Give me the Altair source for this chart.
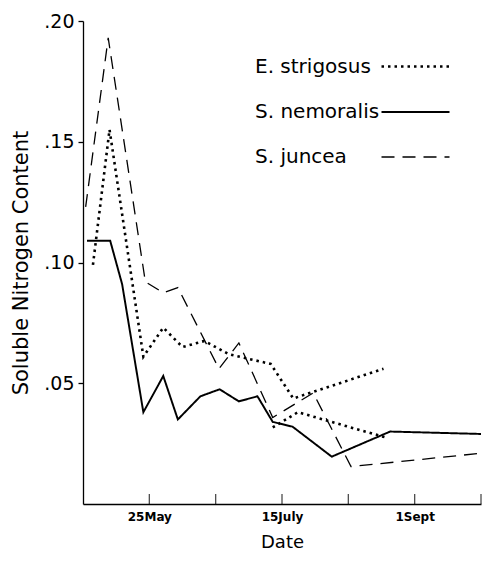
import altair as alt
import pandas as pd

species = ["E. strigosus", "S. nemoralis", "S. juncea"]

# x measured in tick intervals along the date axis (1 = 25May, 3 = 15July, 5 = 1Sept)
es_x = [0.15, 0.40, 0.91, 1.21, 1.50, 1.83, 2.20, 2.83, 3.17, 4.53]
es_y = [0.099, 0.155, 0.061, 0.073, 0.065, 0.0675, 0.062, 0.058, 0.0437, 0.056]
es2_x = [2.86, 3.24, 4.57]
es2_y = [0.0317, 0.038, 0.0275]

sn_x = [0.06, 0.41, 0.59, 0.91, 1.21, 1.43, 1.77, 2.06, 2.35, 2.63, 2.86, 3.16, 3.75, 4.63, 6.0]
sn_y = [0.109, 0.109, 0.091, 0.038, 0.053, 0.035, 0.0446, 0.0475, 0.0425, 0.0446, 0.034, 0.032, 0.0196, 0.030, 0.029]

sj_x = [0.04, 0.38, 0.94, 1.21, 1.43, 2.05, 2.35, 2.86, 3.47, 4.04, 6.0]
sj_y = [0.123, 0.193, 0.092, 0.0875, 0.0896, 0.056, 0.0667, 0.0358, 0.046, 0.0155, 0.021]

x_ticks = [1, 2, 3, 4, 5, 6]
x_label_pos = [1, 3, 5]
x_labels = ["25May", "15July", "1Sept"]
y_ticks = [0.05, 0.10, 0.15, 0.20]

rows = []
for x, y in zip(es_x, es_y):
    rows.append({"x": x, "y": y, "species": species[0], "seg": "a"})
for x, y in zip(es2_x, es2_y):
    rows.append({"x": x, "y": y, "species": species[0], "seg": "b"})
for x, y in zip(sn_x, sn_y):
    rows.append({"x": x, "y": y, "species": species[1], "seg": "a"})
for x, y in zip(sj_x, sj_y):
    rows.append({"x": x, "y": y, "species": species[2], "seg": "a"})
df = pd.DataFrame(rows)

label_expr = " : ".join(
    f"datum.value == {p} ? '{l}'" for p, l in zip(x_label_pos, x_labels)
) + " : ''"

FONT = "DejaVu Sans"

xscale = alt.Scale(domain=[0, 6], nice=False, zero=False)
yscale = alt.Scale(domain=[0, 0.2], nice=False)

lines = alt.Chart(df).mark_line(color="black").encode(
    x=alt.X("x:Q", scale=xscale, title="Date",
            axis=alt.Axis(values=x_label_pos, labelExpr=label_expr, ticks=False,
                          grid=False, labelFont=FONT, labelFontWeight="bold",
                          labelFontSize=12, labelPadding=7, titleFont=FONT,
                          titleFontSize=18, titleFontWeight="normal", titlePadding=11,
                          domainColor="black", domainWidth=1.3, labelColor="black",
                          titleColor="black")),
    y=alt.Y("y:Q", scale=yscale, title="Soluble Nitrogen Content",
            axis=alt.Axis(values=y_ticks,
                          labelExpr="replace(format(datum.value, '.2f'), '0.', '.')",
                          grid=False, tickSize=5, tickColor="black", tickWidth=1.3,
                          labelFont=FONT, labelFontSize=19, labelPadding=4,
                          titleFont=FONT, titleFontSize=21, titleFontWeight="normal",
                          titlePadding=12, domainColor="black", domainWidth=1.3,
                          labelColor="black", titleColor="black")),
    strokeDash=alt.StrokeDash("species:N",
        scale=alt.Scale(domain=species, range=[[2.5, 4], [1, 0], [13, 8]]),
        legend=alt.Legend(title=None, orient="none", legendX=297, legendY=10,
                          symbolType="stroke", symbolSize=4624,
                          symbolStrokeColor="black", symbolStrokeWidth=1.5,
                          labelFont=FONT, labelFontSize=20, labelColor="black",
                          labelAlign="left", labelOffset={"expr": "-196"},
                          rowPadding=0, padding=0)),
    strokeWidth=alt.StrokeWidth("species:N",
        scale=alt.Scale(domain=species, range=[2.6, 1.3, 1.3]), legend=None),
    detail="seg:N",
)

ticks = alt.Chart(pd.DataFrame({"x": x_ticks})).mark_tick(
    orient="vertical", size=10, thickness=1.3, yOffset=-5, color="black"
).encode(
    x=alt.X("x:Q", scale=xscale),
    y=alt.datum(0),
)

chart = alt.layer(lines, ticks).properties(
    width=477, height=543,
    autosize=alt.AutoSizeParams(type="fit", contains="padding"),
    padding={"left": 2, "top": 4, "right": 0, "bottom": 0},
    background="white",
).configure_view(stroke=None)

chart.save("out.html", embed_options={"renderer": "svg", "actions": False})
